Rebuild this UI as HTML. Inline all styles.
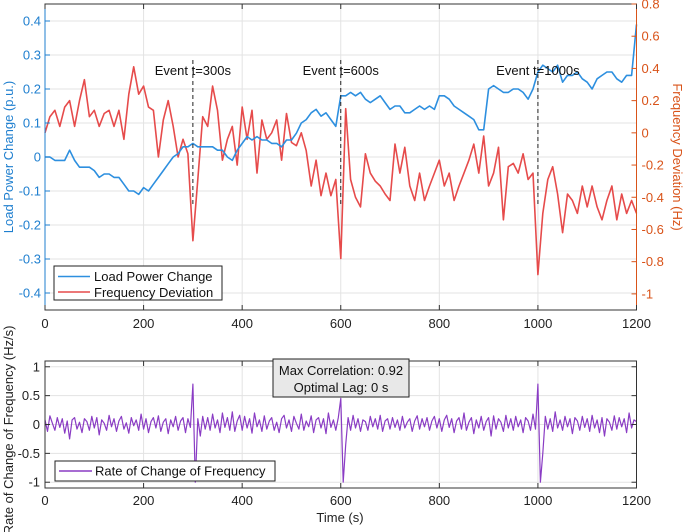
<!DOCTYPE html>
<html><head><meta charset="utf-8">
<style>
body{margin:0;background:#fff;}
svg{display:block;font-family:"Liberation Sans",sans-serif;}
</style></head>
<body>
<svg id="chart" width="685" height="532" viewBox="0 0 685 532" xmlns="http://www.w3.org/2000/svg"></svg>
<script>
const timeTicks=[0,200,400,600,800,1000,1200];
const loadTicks=[0.4,0.3,0.2,0.1,0,-0.1,-0.2,-0.3,-0.4];
const loadTickLabels=["0.4","0.3","0.2","0.1","0","-0.1","-0.2","-0.3","-0.4"];
const freqTicks=[0.8,0.6,0.4,0.2,0,-0.2,-0.4,-0.6,-0.8,-1];
const freqTickLabels=["0.8","0.6","0.4","0.2","0","-0.2","-0.4","-0.6","-0.8","-1"];
const rocofTicks=[1,0.5,0,-0.5,-1];
const rocofTickLabels=["1","0.5","0","-0.5","-1"];
const events=[300,600,1000];
const eventLabels=["Event t=300s","Event t=600s","Event t=1000s"];
const loadStep=10;
const loadValues=[0,0,-0.01,-0.01,-0.01,0.02,-0.01,-0.03,-0.03,-0.03,
-0.04,-0.06,-0.05,-0.05,-0.06,-0.06,-0.08,-0.10,-0.10,-0.11,
-0.09,-0.10,-0.08,-0.06,-0.04,-0.02,0.0,0.01,0.03,0.03,
0.04,0.03,0.03,0.03,0.03,0.02,0.02,0.0,-0.01,0.02,
0.04,0.06,0.05,0.06,0.05,0.05,0.04,0.04,0.03,0.05,
0.05,0.07,0.10,0.11,0.13,0.14,0.12,0.13,0.11,0.09,
0.18,0.18,0.19,0.18,0.19,0.17,0.16,0.17,0.18,0.16,
0.14,0.15,0.15,0.13,0.13,0.14,0.15,0.14,0.15,0.14,
0.18,0.18,0.17,0.15,0.14,0.13,0.12,0.11,0.08,0.08,
0.20,0.21,0.20,0.19,0.19,0.20,0.20,0.19,0.17,0.20,
0.25,0.27,0.26,0.25,0.27,0.22,0.24,0.24,0.25,0.23,
0.22,0.20,0.23,0.24,0.25,0.25,0.23,0.22,0.24,0.24,
0.39];
const freqValues=[0,0.1,0.14,0.04,0.16,0.2,0.04,0.2,0.33,0.1,
0.14,0.04,0.12,0.14,0.04,0.14,-0.04,0.24,0.41,0.24,
0.29,0.16,0.14,-0.15,0.08,0.2,0.04,-0.15,-0.04,-0.13,
-0.67,-0.29,0.1,0.04,0.29,0.14,-0.17,-0.04,0.04,-0.2,
0.16,-0.04,0.14,-0.25,0.08,-0.04,0,0.08,-0.17,0.12,
-0.06,-0.08,0,-0.11,-0.33,-0.17,-0.39,-0.25,-0.39,-0.29,
-0.78,0.15,-0.29,-0.40,-0.46,-0.13,-0.25,-0.3,-0.33,-0.38,
-0.42,-0.07,-0.25,-0.09,-0.33,-0.42,-0.25,-0.42,-0.33,-0.25,
-0.17,-0.33,-0.25,-0.42,-0.33,-0.25,-0.17,-0.07,-0.25,-0.02,
-0.33,-0.25,-0.09,-0.54,-0.21,-0.19,-0.25,-0.13,-0.29,-0.25,
-0.88,-0.5,-0.29,-0.21,-0.38,-0.62,-0.38,-0.42,-0.5,-0.33,
-0.46,-0.33,-0.46,-0.54,-0.42,-0.33,-0.54,-0.38,-0.5,-0.42,
-0.5];
const rocofStep=5;
const rocofValues=[0.08,-0.12,0.15,0.02,-0.1,0.12,-0.05,0.1,-0.15,0.06,-0.25,0.08,0.12,-0.08,0.04,-0.14,0.1,0.05,-0.1,0.14,
-0.06,0.12,-0.18,0.08,0.02,-0.1,0.16,-0.04,0.1,-0.12,0.06,0.14,-0.08,0.03,-0.15,0.12,-0.02,0.08,-0.1,0.18,
-0.08,0.1,-0.14,0.05,0.12,-0.06,0.15,-0.12,0.04,0.1,-0.16,0.08,-0.04,0.14,-0.1,0.06,0.12,-0.14,0.1,-0.05,
0.7,-1.0,0.1,-0.2,0.14,-0.08,0.12,-0.1,0.18,-0.06,0.08,-0.14,0.2,-0.05,0.12,-0.1,0.22,-0.12,0.06,0.16,
-0.1,0.14,-0.06,0.1,-0.15,0.2,-0.04,0.08,-0.12,0.15,-0.08,0.06,0.12,-0.1,0.04,-0.14,0.1,0.16,-0.06,0.08,
-0.12,0.14,0.02,-0.08,0.18,-0.1,0.06,-0.04,0.15,-0.14,0.08,0.12,-0.06,0.1,-0.16,0.2,-0.05,0.08,-0.1,0.12,
0.45,-1.0,-0.35,0.12,-0.1,0.16,-0.06,0.1,-0.12,0.08,0.05,-0.1,0.14,-0.04,0.1,-0.08,0.16,-0.12,0.06,0.1,
-0.08,0.12,-0.05,0.08,-0.1,0.14,-0.06,0.04,0.1,-0.12,0.06,0.15,-0.08,0.1,-0.04,0.12,-0.1,0.06,0.14,-0.06,
0.1,-0.12,0.08,0.16,-0.05,0.1,-0.14,0.06,0.12,-0.08,0.2,-0.1,0.04,0.12,-0.16,0.08,-0.06,0.14,-0.1,0.05,
0.12,-0.2,0.15,-0.08,0.1,0.04,-0.12,0.16,-0.06,0.1,-0.1,0.14,-0.04,0.08,-0.14,0.12,0.06,-0.1,0.18,-0.08,
0.7,-1.0,-0.5,0.14,-0.08,0.1,-0.12,0.22,-0.06,0.08,-0.1,0.14,-0.04,0.1,-0.16,0.12,0.06,-0.1,0.14,-0.05,
0.1,-0.12,0.16,-0.06,0.08,-0.14,0.12,-0.2,0.1,0.04,-0.1,0.15,-0.08,0.12,-0.04,0.1,-0.14,0.2,-0.06,0.08,
0.05];

const NS="http://www.w3.org/2000/svg";
const svg=document.getElementById('chart');
function el(tag,attrs,parent,text){const e=document.createElementNS(NS,tag);for(const k in attrs)e.setAttribute(k,attrs[k]);if(text!==undefined)e.textContent=text;(parent||svg).appendChild(e);return e;}
const X0=45,X1=636.5;
const xs=t=>X0+(t/1200)*(X1-X0);
const T0=4,T1=310;
const yL=v=>T0+(0.45-v)/0.9*(T1-T0);
const yR=v=>T0+(0.8-v)/1.9*(T1-T0);
const B0=361,B1=488;
const yB=v=>B0+(1.1-v)/2.2*(B1-B0);
const BLUE="#2d8fdf",RED="#e64b4b",PURP="#8a3cc4",ORANGE="#d95319",LBLUE="#1f7fcf";

// Top grid
const g1=el('g',{});

timeTicks.forEach(t=>el('line',{x1:xs(t),x2:xs(t),y1:T0,y2:T1,stroke:'#e3e3e3','stroke-width':1},g1));
loadTicks.forEach(v=>el('line',{x1:X0,x2:X1,y1:yL(v),y2:yL(v),stroke:'#e3e3e3','stroke-width':1},g1));
// bottom grid
const g2=el('g',{});

timeTicks.forEach(t=>el('line',{x1:xs(t),x2:xs(t),y1:B0,y2:B1,stroke:'#e3e3e3','stroke-width':1},g2));
rocofTicks.forEach(v=>el('line',{x1:X0,x2:X1,y1:yB(v),y2:yB(v),stroke:'#e3e3e3','stroke-width':1},g2));

// series
function poly(vals,step,yf,color,name,w){
  const pts=vals.map((v,i)=>xs(i*step).toFixed(1)+','+yf(v).toFixed(1)).join(' ');
  const p=el('polyline',{points:pts,fill:'none',stroke:color,'stroke-width':w,'stroke-linejoin':'round'});
  
}
poly(freqValues,loadStep,yR,RED,'frequency-deviation-line',1.6);
poly(loadValues,loadStep,yL,BLUE,'load-power-line',1.6);
poly(rocofValues,rocofStep,yB,PURP,'rocof-line',1.2);

// events
events.forEach((t,i)=>{
  const l=el('line',{x1:xs(t),x2:xs(t),y1:60,y2:205,stroke:'#222','stroke-width':1,'stroke-dasharray':'4,3'});
  
  const tx=el('text',{x:xs(t),y:75,'text-anchor':'middle','font-size':13,fill:'#111'},svg,eventLabels[i]);
  
});

// axes boxes
const box1=el('rect',{x:X0,y:T0,width:X1-X0,height:T1-T0,fill:'none',stroke:'#333','stroke-width':1});

el('line',{x1:X0,x2:X0,y1:T0,y2:T1,stroke:LBLUE,'stroke-width':1});
el('line',{x1:X1,x2:X1,y1:T0,y2:T1,stroke:ORANGE,'stroke-width':1});
const box2=el('rect',{x:X0,y:B0,width:X1-X0,height:B1-B0,fill:'none',stroke:'#333','stroke-width':1});


// ticks & labels
timeTicks.forEach(t=>{
  el('line',{x1:xs(t),x2:xs(t),y1:T1,y2:T1-5,stroke:'#333'});
  el('line',{x1:xs(t),x2:xs(t),y1:T0,y2:T0+5,stroke:'#333'});
  const a=el('text',{x:xs(t),y:328,'text-anchor':'middle','font-size':13,fill:'#222'},svg,String(t));
  
  el('line',{x1:xs(t),x2:xs(t),y1:B1,y2:B1-5,stroke:'#333'});
  el('line',{x1:xs(t),x2:xs(t),y1:B0,y2:B0+5,stroke:'#333'});
  const b=el('text',{x:xs(t),y:505,'text-anchor':'middle','font-size':13,fill:'#222'},svg,String(t));
  
});
loadTicks.forEach((v,i)=>{
  el('line',{x1:X0,x2:X0+5,y1:yL(v),y2:yL(v),stroke:LBLUE});
  const a=el('text',{x:X0-4,y:yL(v)+4.5,'text-anchor':'end','font-size':13,fill:LBLUE},svg,loadTickLabels[i]);
  
});
freqTicks.forEach((v,i)=>{
  el('line',{x1:X1,x2:X1-5,y1:yR(v),y2:yR(v),stroke:ORANGE});
  const a=el('text',{x:X1+5,y:yR(v)+4.5,'text-anchor':'start','font-size':13,fill:ORANGE},svg,freqTickLabels[i]);
  
});
rocofTicks.forEach((v,i)=>{
  el('line',{x1:X0,x2:X0+5,y1:yB(v),y2:yB(v),stroke:'#333'});
  el('line',{x1:X1,x2:X1-5,y1:yB(v),y2:yB(v),stroke:'#333'});
  const a=el('text',{x:X0-5,y:yB(v)+4.5,'text-anchor':'end','font-size':13,fill:'#222'},svg,rocofTickLabels[i]);
  
});

// axis titles
const t1=el('text',{x:0,y:0,transform:'translate(13,157) rotate(-90)','text-anchor':'middle','font-size':13,fill:LBLUE},svg,'Load Power Change (p.u.)');

const t2=el('text',{x:0,y:0,transform:'translate(673,157) rotate(90)','text-anchor':'middle','font-size':13,fill:ORANGE},svg,'Frequency Deviation (Hz)');

const t3=el('text',{x:0,y:0,transform:'translate(13,430) rotate(-90)','text-anchor':'middle','font-size':13,fill:'#222'},svg,'Rate of Change of Frequency (Hz/s)');

const t4=el('text',{x:340,y:522,'text-anchor':'middle','font-size':13,fill:'#222'},svg,'Time (s)');


// top legend
const lg=el('g',{});

el('rect',{x:54,y:266,width:168,height:34,fill:'#fff',stroke:'#222'},lg);
el('line',{x1:58,x2:90,y1:276.5,y2:276.5,stroke:BLUE,'stroke-width':1.6},lg);
el('line',{x1:58,x2:90,y1:292,y2:292,stroke:RED,'stroke-width':1.6},lg);
const le1=el('text',{x:94,y:281,'font-size':13,fill:'#111'},lg,'Load Power Change');

const le2=el('text',{x:94,y:297,'font-size':13,fill:'#111'},lg,'Frequency Deviation');


// bottom legend
const lg2=el('g',{});

el('rect',{x:55,y:461,width:220,height:20,fill:'#fff',stroke:'#222'},lg2);
el('line',{x1:59,x2:92,y1:471,y2:471,stroke:PURP,'stroke-width':1.6},lg2);
const le3=el('text',{x:95,y:475.5,'font-size':13,fill:'#111'},lg2,'Rate of Change of Frequency');


// annotation
const an=el('g',{});

el('rect',{x:273,y:359,width:136,height:38,fill:'#e8e8e8',stroke:'#222'},an);
el('text',{x:341,y:375,'text-anchor':'middle','font-size':13,fill:'#111'},an,'Max Correlation: 0.92');
el('text',{x:341,y:392,'text-anchor':'middle','font-size':13,fill:'#111'},an,'Optimal Lag: 0 s');
</script>
</body></html>
